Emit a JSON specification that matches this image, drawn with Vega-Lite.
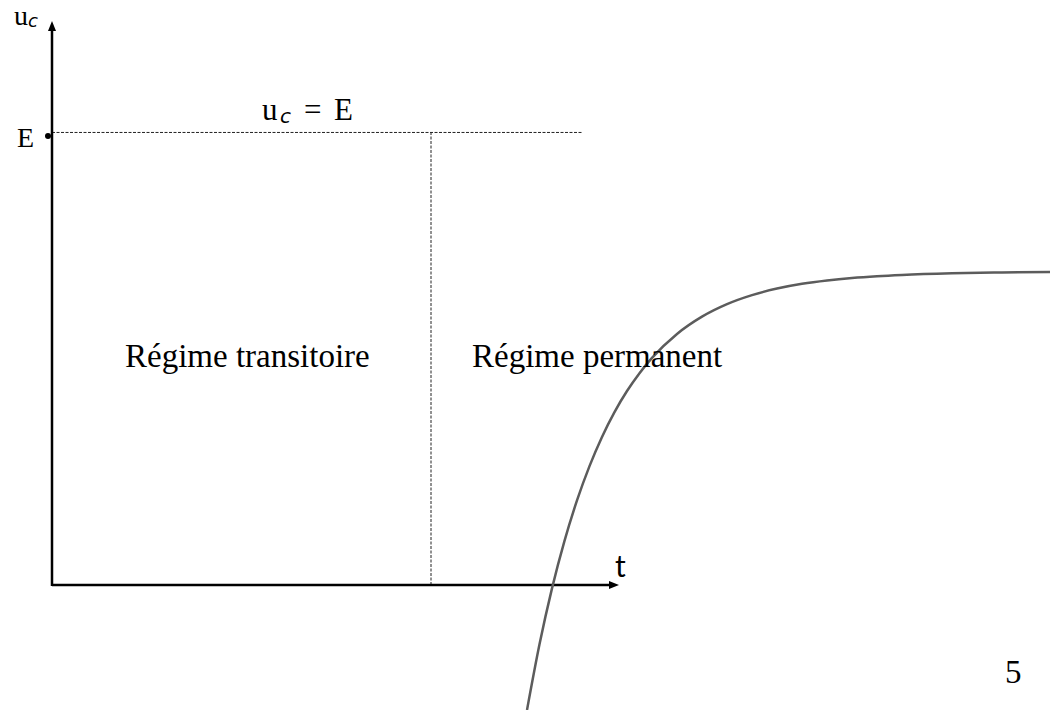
{
  "$schema": "https://vega.github.io/schema/vega-lite/v6.json",
  "width": 1061,
  "height": 710,
  "autosize": {"type": "none"},
  "padding": 0,
  "background": "white",
  "config": {"view": {"stroke": null}},
  "data": {"values": [
    {"g": "axis", "t": 0, "u": -0.002, "t2": 0, "u2": 1.226},
    {"g": "axis", "t": 0, "u": 0, "t2": 11.14, "u2": 0},
    {"g": "dash", "t": 0, "u": 0.999, "t2": 10.6, "u2": 0.999},
    {"g": "dash", "t": 7.58, "u": 0, "t2": 7.58, "u2": 0.999},
    {"g": "arrowup", "t": 0, "u": 1.234},
    {"g": "arrowright", "t": 11.24, "u": 0},
    {"g": "dot", "t": -0.08, "u": 0.991},
    {"g": "curve", "t": 9.5, "u": -0.276},
    {"g": "curve", "t": 9.75, "u": -0.131},
    {"g": "curve", "t": 10.0, "u": -0.0074},
    {"g": "curve", "t": 10.25, "u": 0.0975},
    {"g": "curve", "t": 10.5, "u": 0.1867},
    {"g": "curve", "t": 10.75, "u": 0.2625},
    {"g": "curve", "t": 11.0, "u": 0.3269},
    {"g": "curve", "t": 11.25, "u": 0.3817},
    {"g": "curve", "t": 11.5, "u": 0.4282},
    {"g": "curve", "t": 11.75, "u": 0.4677},
    {"g": "curve", "t": 12.0, "u": 0.5014},
    {"g": "curve", "t": 12.5, "u": 0.5543},
    {"g": "curve", "t": 13.0, "u": 0.5925},
    {"g": "curve", "t": 13.5, "u": 0.6201},
    {"g": "curve", "t": 14.0, "u": 0.64},
    {"g": "curve", "t": 14.5, "u": 0.6544},
    {"g": "curve", "t": 15.0, "u": 0.6649},
    {"g": "curve", "t": 15.5, "u": 0.6724},
    {"g": "curve", "t": 16.0, "u": 0.6779},
    {"g": "curve", "t": 16.5, "u": 0.6818},
    {"g": "curve", "t": 17.0, "u": 0.6846},
    {"g": "curve", "t": 18.0, "u": 0.6881},
    {"g": "curve", "t": 19.0, "u": 0.69},
    {"g": "curve", "t": 19.96, "u": 0.6909},
    {"g": "serif", "t": -0.7, "u": 0.9669, "label": "E"},
    {"g": "serif", "t": -0.76, "u": 1.2362, "label": "u"},
    {"g": "mid", "t": 4.2, "u": 1.0265, "label": "u"},
    {"g": "mid", "t": 5.04, "u": 1.0265, "label": "="},
    {"g": "mid", "t": 5.64, "u": 1.0265, "label": "E"},
    {"g": "sub", "t": -0.48, "u": 1.2318, "label": "c"},
    {"g": "midsub", "t": 4.56, "u": 1.0199, "label": "c"},
    {"g": "big", "t": 1.46, "u": 0.4812, "label": "Régime transitoire"},
    {"g": "big", "t": 8.4, "u": 0.4812, "label": "Régime permanent"},
    {"g": "big", "t": 19.06, "u": -0.2163, "label": "5"},
    {"g": "sans", "t": 11.26, "u": 0.0177, "label": "t"}
  ]},
  "encoding": {
    "x": {"field": "t", "type": "quantitative", "axis": null, "scale": {"domain": [-1.04, 20.18], "nice": false, "zero": false}},
    "y": {"field": "u", "type": "quantitative", "axis": null, "scale": {"domain": [-0.2759, 1.2914], "nice": false, "zero": false}}
  },
  "layer": [
    {
      "transform": [{"filter": "datum.g === 'dash'"}],
      "mark": {"type": "rule", "color": "#222", "strokeWidth": 1, "strokeDash": [3, 1.5]},
      "encoding": {"x2": {"field": "t2"}, "y2": {"field": "u2"}}
    },
    {
      "transform": [{"filter": "datum.g === 'axis'"}],
      "mark": {"type": "rule", "color": "black", "strokeWidth": 2.5},
      "encoding": {"x2": {"field": "t2"}, "y2": {"field": "u2"}}
    },
    {
      "transform": [{"filter": "datum.g === 'arrowup'"}],
      "mark": {"type": "point", "shape": "M-0.8,1L0.8,1L0,-1Z", "size": 100, "filled": true, "color": "black", "opacity": 1},
      "encoding": {}
    },
    {
      "transform": [{"filter": "datum.g === 'arrowright'"}],
      "mark": {"type": "point", "shape": "M-1,-0.8L-1,0.8L1,0Z", "size": 100, "filled": true, "color": "black", "opacity": 1},
      "encoding": {}
    },
    {
      "transform": [{"filter": "datum.g === 'dot'"}],
      "mark": {"type": "point", "shape": "circle", "size": 36, "filled": true, "color": "black", "opacity": 1},
      "encoding": {}
    },
    {
      "transform": [{"filter": "datum.g === 'curve'"}],
      "mark": {"type": "line", "color": "#5c5c5c", "strokeWidth": 2.5, "interpolate": "monotone"},
      "encoding": {}
    },
    {
      "transform": [{"filter": "datum.g === 'serif'"}],
      "mark": {"type": "text", "font": "Liberation Serif", "fontSize": 28, "align": "left", "baseline": "alphabetic", "color": "black"},
      "encoding": {"text": {"field": "label"}}
    },
    {
      "transform": [{"filter": "datum.g === 'mid'"}],
      "mark": {"type": "text", "font": "Liberation Serif", "fontSize": 31, "align": "left", "baseline": "alphabetic", "color": "black"},
      "encoding": {"text": {"field": "label"}}
    },
    {
      "transform": [{"filter": "datum.g === 'sub'"}],
      "mark": {"type": "text", "font": "DejaVu Sans", "fontStyle": "italic", "fontSize": 18, "align": "left", "baseline": "alphabetic", "color": "black"},
      "encoding": {"text": {"field": "label"}}
    },
    {
      "transform": [{"filter": "datum.g === 'midsub'"}],
      "mark": {"type": "text", "font": "DejaVu Sans", "fontStyle": "italic", "fontSize": 20, "align": "left", "baseline": "alphabetic", "color": "black"},
      "encoding": {"text": {"field": "label"}}
    },
    {
      "transform": [{"filter": "datum.g === 'big'"}],
      "mark": {"type": "text", "font": "Liberation Serif", "fontSize": 33, "align": "left", "baseline": "alphabetic", "color": "black"},
      "encoding": {"text": {"field": "label"}}
    },
    {
      "transform": [{"filter": "datum.g === 'sans'"}],
      "mark": {"type": "text", "font": "Lato", "fontSize": 30, "align": "left", "baseline": "alphabetic", "color": "black"},
      "encoding": {"text": {"field": "label"}}
    }
  ]
}
